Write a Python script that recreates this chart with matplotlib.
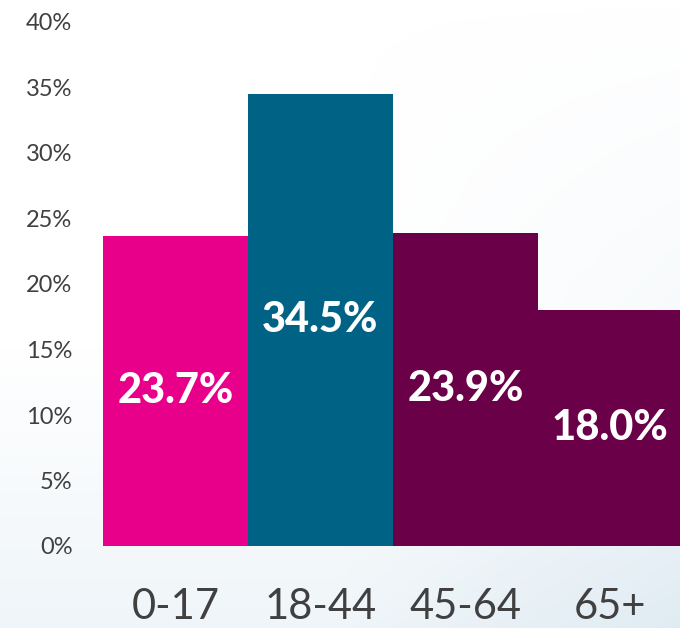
import numpy as np
import matplotlib.pyplot as plt
from matplotlib.colors import LinearSegmentedColormap

# age groups and share of the population
groups = ['0-17', '18-44', '45-64', '65+']
shares = [23.7, 34.5, 23.9, 18.0]
colors = ['#E8008A', '#006386', '#6A0047', '#6A0047']
yticks = [0, 5, 10, 15, 20, 25, 30, 35, 40]

plt.rcParams['font.family'] = ['Lato', 'DejaVu Sans']

fig = plt.figure(figsize=(6.8, 6.28), dpi=100)

# soft photo-like backdrop
bg = fig.add_axes([0, 0, 1, 1], zorder=0)
yy, xx = np.mgrid[0:1:200j, 0:1:200j]
shade = np.clip((yy - 0.55) * 1.6, 0, 1) * 0.5 + np.clip((xx - 0.5) * 1.2, 0, 1) * yy * 0.6
cmap = LinearSegmentedColormap.from_list('bg', ['#FFFFFF', '#D4E4EE'])
bg.imshow(shade, cmap=cmap, vmin=0, vmax=1, aspect='auto', extent=[0, 1, 0, 1])
bg.axis('off')

ax = fig.add_axes([103 / 680, 1 - 546 / 628, 577 / 680, 524 / 628], zorder=1)
ax.patch.set_alpha(0)
x = np.arange(len(groups))
bars = ax.bar(x, shares, width=1.0, color=colors)
for b, v in zip(bars, shares):
    ax.text(b.get_x() + b.get_width() / 2, v / 2, f'{v:.1f}%', ha='center', va='center',
            color='white', fontsize=30, fontweight='black')

ax.set_xlim(-0.5, 3.48)
ax.set_ylim(0, 40)
ax.set_yticks(yticks)
ax.set_yticklabels([f'{t}%' for t in yticks], fontsize=17, color='#404040')
ax.set_xticks(x)
ax.set_xticklabels(groups, fontsize=30, color='#404040')
ax.tick_params(axis='y', length=0, pad=22)
ax.tick_params(axis='x', length=0, pad=30)
for s in ax.spines.values():
    s.set_visible(False)

fig.savefig('out.png', dpi=100)
